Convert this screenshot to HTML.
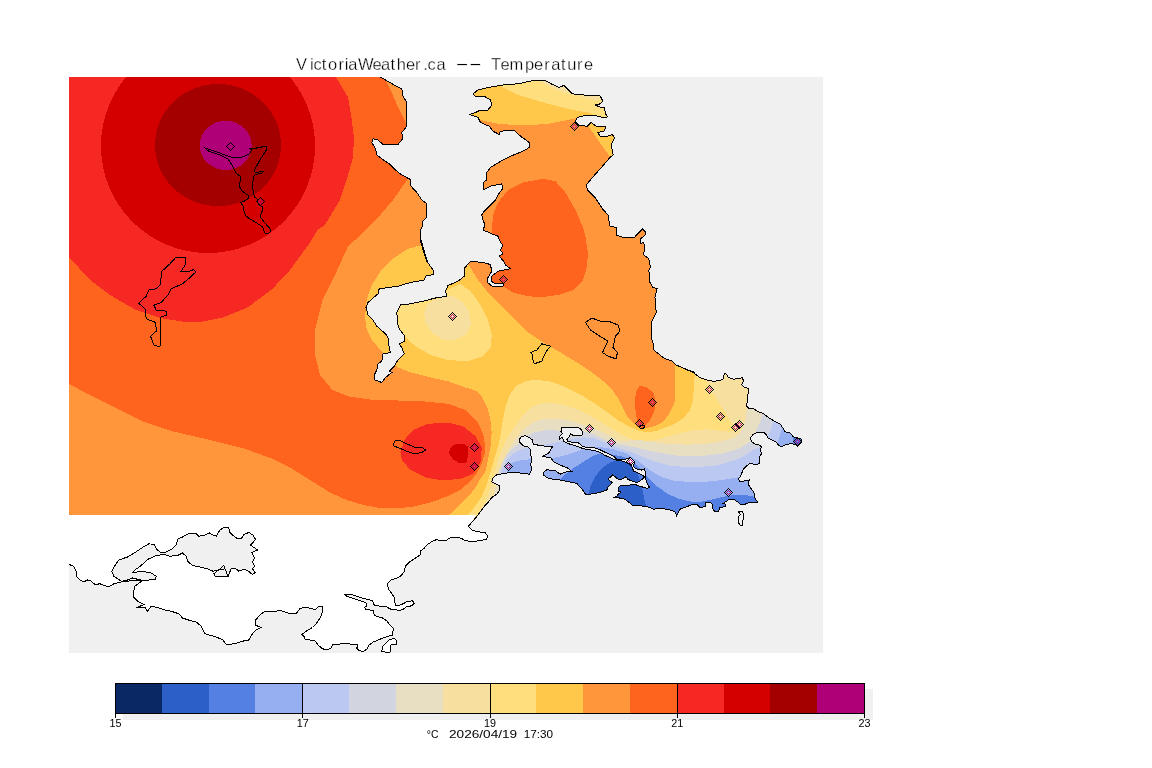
<!DOCTYPE html>
<html><head><meta charset="utf-8"><title>VictoriaWeather.ca -- Temperature</title>
<style>html,body{margin:0;padding:0;background:#fff}body{width:1152px;height:768px;overflow:hidden}svg{display:block}text{font-family:"Liberation Sans",sans-serif;fill:#000}.t{stroke:#fff;stroke-width:0.3px}</style></head><body>
<svg width="1152" height="768" viewBox="0 0 1152 768" shape-rendering="crispEdges">
<rect width="1152" height="768" fill="#fff"/>
<rect x="69" y="77" width="754" height="576" fill="#f0f0f0"/>
<defs><clipPath id="land"><polygon points="69,77 380.5,77 380.5,77 385.5,80 394.2,85 401.8,88.8 403,96.2 406.8,102.5 406.8,126.2 401.8,132.5 402.5,138.8 398,144.5 383,144.5 377.5,139.5 373,138.8 371.8,142.5 375.5,148.8 376.8,155 381.8,158.8 389.2,163.8 395.5,170 401.8,175 410.5,179.5 410,185 416.8,192.5 421.8,200 426.8,203.8 426.8,217.5 423,221.2 422.5,226.2 420.5,230 421,242.5 423,250 425.5,256.2 427.5,262 421,240 423,250 426.8,261.2 433,270 433,274.5 425.5,276.2 424.2,280 410.5,282.5 398,286.2 379.2,288.8 378,293.8 368,302.5 366,307.5 368,315 373,320 376.8,326.2 385.5,333.8 388,337.5 389.2,347.5 390.5,352.5 383,353.8 381.8,361.2 378,363.8 376.8,370 374.2,375 375,380 381.8,382.5 385.5,377.5 391.8,372.5 389.2,371.2 394.2,366.2 398,360 404.2,353.8 401.8,347.5 399.2,343.8 404.2,341.2 405,336.2 399.2,328.8 398,325 396.8,312.5 400.5,305 410.5,303.8 423,301.2 435.5,298 446.8,296.2 445.5,291.2 448,285.5 458,281.2 464.2,276.2 465,267.5 470.5,261.2 478,262 486.8,263.2 490.5,265 491.8,271.2 488,277.5 487.5,282.5 493,287 503,286.2 503.5,283.8 495.5,283.8 491,281.2 491.8,276.2 498,271.2 510.5,268.8 505.5,265 504.2,262 499.2,256.2 503,253.8 500.5,250 503,245 500.5,242.5 498,236.2 491.8,233.8 483,230 485,225 483,220 481.8,215 484.2,211.2 490.5,205 495.5,200 498,195 502.5,188.8 501.8,183.8 490.5,186.2 483,190 483,182.5 486.8,180 486.8,172.5 490.5,167.5 503,160 510.5,156.2 523,151.2 529.2,147.5 529.2,142.5 520.5,136.2 514.2,130 500.5,131.2 499.2,134.5 493,131.2 489.2,126.2 480.5,122.5 478,117.5 470,114.5 475.5,112.5 480.5,110 488,110 491.8,105 490.5,100 484.2,96.2 475.5,96.2 473,93.8 478,90 488,87.5 503,85 518,83.8 533,80.5 545.5,80.5 551.2,83.8 558.8,87.5 563.8,85.5 572.5,93.8 583.8,95 593.8,95.8 600,95.8 603,101.2 598.8,104.5 595,105 601.2,107.5 604.5,107.5 605.5,113.8 607.5,117 602.5,117.5 593.8,115 585,115.5 577.5,117.5 575,121.2 578.8,125.5 587.5,126.2 591.2,122.5 596.2,126.2 606.2,127 603.8,131.2 598,132.5 600,136.2 607.5,136.2 612.5,134.5 614.5,138 611.2,145 613.2,155 610,157.5 602.5,166.2 592.5,177.5 586.2,185 587.5,190 595,197.5 602.5,208.8 608,215 610,226.2 616.2,227.5 616.2,235 623.8,237.5 633.8,238 642.5,228.8 645.5,232 645,235 640,239.5 640,243.8 643.8,242.5 644.5,248.8 644.5,243.8 643.8,255 648.8,258.8 650.5,267.5 648.8,270 650,282.5 652.5,287 657,288.8 655,297.5 656.2,312.5 653.8,317.5 651.2,322.5 651.2,337.5 653,342.5 653.8,350 660,355 665,358.8 672.5,361.2 676.2,365 685,368.8 695,372.5 687.5,370 693.3,372.5 700,377.5 706.7,380 713.3,381.3 718.3,380.8 723,379.2 724.2,374.2 725.8,373.3 728.3,377.5 733.3,379.2 740,378.3 742,377.5 743.7,380.8 741.7,385 744.2,387.5 748.3,388.3 748.7,392.5 747.5,395 748,401.7 745.8,405 748.3,408 753.3,408.7 758.3,411.7 763.3,413.3 768.3,417.5 772.5,420 776.7,422.5 780,423.7 782.5,427.5 785,431.7 790,433 793.3,436.7 797.5,438.3 800.8,438.7 801.7,441.7 799.2,445 797.5,446.3 795,444.2 790,443.8 785,445 781.7,446.7 778.3,445 775.8,441.7 771.7,440 768.3,438.3 765.8,434.2 764.2,432.5 756.7,432.5 753.3,434.2 750,438.3 751.7,441.7 755,444.2 759.2,445 761.7,446.7 760,450 761.7,453.3 759.7,456.7 760,463.3 756.7,464.7 750,463.3 746.7,465.8 743.3,469.2 741.7,473.3 740,476.7 738.3,479.2 740,481.7 745,480.8 749.2,480 748.3,484.2 750.8,488.3 753.3,491.7 755,495 754.2,495.8 755.8,500 758.3,502 753.3,502.5 748.3,503 745,504.2 740,504.2 737.5,501.7 733.3,499.2 728.3,500 723.3,503.3 725.8,504.2 725,506.7 720,507.5 718.3,511.7 715,511.7 712.5,508.3 712.5,504.2 710,502 705.8,502.5 705,506.7 700,507.5 697.5,505 693.3,504.2 686.7,506.7 680,509.2 678.3,512.5 676.7,515.8 675,511.7 670,510 663.3,508.7 655.8,508.3 653.3,510 652.5,508.3 646.7,506.7 640,505.8 633.3,505.8 628.3,501.7 623.3,498.3 614.4,497.6 616.4,496.6 618.5,494 621.1,491.9 618,490.9 618.5,487.7 620.6,485.1 623.7,485.7 628.9,485.1 635.2,484.6 641.5,486.7 646.7,488.3 649.8,487.7 646.7,482.5 645.1,476.8 645.6,473.1 644.6,469 641.5,470 637.3,469 634.2,467.4 633.6,464.8 634.7,462.2 633.1,460.1 630.5,457.5 627.9,458.6 622.7,459.6 616.4,459.1 613.3,456 610.2,454.4 605,452.3 599.8,449.7 593.5,447.3 587.3,447.6 582.1,446.1 577.9,442.4 572.7,442.4 568,441.4 566.9,439.3 569,436.7 570.6,434.1 572.7,435.1 582.1,435.1 582.9,432.5 581,429.4 577.9,427.3 561.2,427.3 561,431.5 562.3,433.5 559.6,436.7 559.1,439.3 561.7,437.2 563.3,439.3 563.8,441.4 567.5,443.4 572.7,445 578.9,446.9 583.1,448.7 589.3,449.7 595.6,450.7 599.8,452.3 605,455.4 610.2,457.5 614.4,459.6 618.5,460.4 622.7,461.2 626.9,462.7 631,464.8 632.6,468.5 633.6,471.1 638.3,473.1 642.5,475.2 644.6,477.3 642.5,478.9 639.4,481.5 636.2,482.5 632.1,481 627.9,479.4 625.8,476.8 622.7,478.9 618.5,479.4 616.4,477.8 612.8,474.7 610.2,477.3 608.1,478.9 610.2,481 612.3,482.5 610.2,484.6 608.1,486.7 607.1,489.8 603.9,490.9 601.9,491.9 597.7,492.9 593.5,493.5 588.3,494.5 586.2,495 582.1,489.3 576.7,483.3 568.3,481.7 560,480 553.3,479.2 548.3,478.3 543.3,475 543.3,472.5 546.7,469.7 555.8,470.8 560,474.2 566.7,471.7 572,471.7 568.3,468.3 560,465 553.3,461.7 550.8,457.5 542.5,456.7 549.2,452.5 552.5,446.7 541.7,445.8 533.3,444.2 532.5,440 529.2,437.5 525.3,435.8 521.3,436.7 519.5,439.2 520,442.5 523.3,445.8 527.5,446.7 530,449.2 530,453.3 531.7,458.3 530.8,465 531.7,470 529.2,474.2 521.7,473.3 513.3,472 505,473.3 496.7,474.7 493.3,477.5 491.7,481.7 495,483.7 499.2,485.8 500,490 496.7,494.2 491.7,497.5 486.7,504.2 486.7,503.3 481.7,510 476.7,516.7 471.7,522.5 476.7,515 69,515"/></clipPath><clipPath id="map"><rect x="69" y="77" width="754" height="576"/></clipPath></defs>
<polygon points="69,515 476.7,515 471.7,522.5 468.3,526.3 471.7,530 476.7,531.7 485,532.5 487.5,535.8 486.7,539.2 480,540.8 471.7,541.3 465,540.8 461.7,538.3 455,537.2 448.3,538.3 446.7,540.8 440,540.8 436.7,539.5 431.7,541.7 426.7,545 424.2,548.3 420.8,550.8 420,555 415,558.3 410,561.7 405.8,565.8 405,568 404.2,571.7 400.8,575.8 396.7,578.3 390.8,580 387.5,583.3 388.3,589.2 391.7,593.3 394.2,597.5 394.2,601.7 395.8,605 400,605 404.2,603.3 406.7,601.7 412.5,600.8 414.2,603.3 411.7,605.8 406.7,606.7 403.3,609.2 399.2,610.8 395,609.2 391.7,609.7 386.7,607 380,606.3 374.2,605 372.5,600.8 366.7,599.2 360,597.5 353.3,595 345,594.7 347.5,596.7 353.3,598.3 360,600.8 365.8,602.5 366.7,605.8 364.7,607.5 365.8,609.7 370,610 373.3,610.8 374.2,615 376.7,616.7 381.7,617.5 386.7,620.8 390,625 393.3,628.3 392.5,635 386.7,636.7 380,639.2 373.3,642 369.2,645 366.7,649.2 363.3,651.3 359.2,650.8 356.7,648.3 358,645 353.3,644.2 343.3,643.7 332.5,644.7 330.8,648.3 326.7,650 322.5,648.7 318.3,645.3 315,640.8 310,640 305,639.2 304.2,636.7 301.7,634.7 306.7,630.8 312.5,627.5 315.8,624.2 319.2,619.2 321.7,615 322.5,610 322,606.3 318.3,607 315,609.7 311.7,608.3 305,607.5 300,608.3 296.2,613.8 290,613.8 281.2,610.8 272.5,611.2 263.8,612 260,615 255.5,620 255,625 261.2,627.5 256.2,630 252.5,633.8 248.8,640 242.5,641.2 235,643.8 226.2,644.5 222.5,639.5 213.8,636.2 205,633.8 201.2,626.2 196.2,622 190,620.5 182.5,618 178.8,613.8 171.2,611.2 165,610 158.8,608 151.2,606.2 147.5,611.2 145,607.5 136.2,608 143.8,604.5 137.5,601.2 133.8,597.5 133.8,591.2 135,586.2 142.5,580.5 132.5,580.5 121.2,582 113.8,583.8 108.8,587 105,585.8 100,583.8 95,584.5 91.2,581.2 87.5,580 83.8,581.8 80,580 76.2,576.2 76.2,571.2 73.8,566.2 69.2,564.5 69,564.5" fill="#fff"/>
<g clip-path="url(#land)">
<rect x="60" y="70" width="780" height="460" fill="#ff963c"/>
<polygon points="60,70 380,70 385,79 391.8,92.5 398,107.5 404.3,120 406.8,126 420,150 420,178 408,178.8 401.8,187.5 393,200 378,217.5 360.5,235 348,246.3 335,275 322.5,300 315,330 315,355 320,375 332.5,390 348,396.3 373,400 398,400.5 423,401.3 448,403.8 465.5,410 478,422.5 484.3,437.5 485,452.5 481.7,463.3 476.7,473.3 470,481.7 460,490 446.7,496.7 430,502.5 413.3,506.7 396.7,508.3 380,508 363.3,505 346.7,500 330,492.5 310,480 290,467.5 272.5,458.8 245,448.8 210,440 172.5,431.3 142.5,421.3 110,405 85,392.5 60,379" fill="#ff641e"/>
<polygon points="491.8,232.5 493,215 498,202.5 508,190 523,182.5 543,178.8 555.5,181.3 565.5,192.5 575.5,210 583,227.5 585.5,237.5 588,252.5 586.8,267.5 583,280 573,290 560.5,294.5 543,297 528,296.3 513,292.5 503,286.3 495,284.5 492.3,280 491.8,276 493.5,273 497,270.5 493.5,263 489,250 489,235" fill="#ff641e"/>
<polygon points="640,385.8 646.7,387.5 653.3,392.5 655.8,401.7 654.2,411.7 650,420 645,425.8 642.5,428.3 639.2,425.8 636.7,418.3 635.3,408.3 635,398.3 636.7,390" fill="#ff641e"/>
<polygon points="60,70 336,70 336,77 348,97 351.8,120 354,137.5 353,157.5 348,175 340,200 325,225 317.5,230 310,242.5 290,270 272.5,288.8 247.5,307.5 222.5,317.5 200,322 185,322 160,318 135,309.5 110,295 90,280 69,257 60,250" fill="#f52823"/>
<polygon points="400.5,452.5 404.3,440 413,430 428,423.8 448,422.5 463,426.3 475.5,436.3 481.8,447.5 480.5,462.5 473,473.8 460.5,478.8 443,480.5 425.5,477.5 410.5,470 401.8,460" fill="#f52823"/>
<ellipse cx="208" cy="146" rx="107" ry="107" fill="#d40000"/>
<ellipse cx="218" cy="145" rx="63" ry="61" fill="#a50000"/>
<ellipse cx="225.7" cy="145.4" rx="26" ry="24.6" fill="#b00078"/>
<polygon points="448.8,452.5 450.8,447.5 455,444.2 463.3,443.7 468,446.7 468.3,455 466.3,462.5 458.3,462.5 452.5,459.2" fill="#d40000"/>
<polygon points="470,120 480.5,120 498,123.8 523,125.5 548,123.8 568,120 577,118 588,125.5 598,140 606.8,152.5 610.5,157.5 625,160 640,60 470,60" fill="#ffc84b"/>
<polygon points="421.8,245 408,248.8 393,258.8 380.5,271.3 371.8,285 366.8,298.8 365,317.5 366.8,330 371.8,340 380.5,350 390,360 398,367.5 410.5,372.5 430.5,377.5 448,381.3 465.5,387.5 476,391 482.3,397.3 487.3,407.3 490.4,419.8 491.6,432.3 491,444.8 488.5,457.3 485.4,472 481.7,476.7 475,488.3 466.7,498.3 456.7,508.3 449.2,514.7 445,525 830,525 830,365 675,365 674.5,380 675.5,400 670,412.5 663.3,421.7 655,425.8 646.7,428.3 640,428.3 635,425 628.3,418.3 623.3,408.3 618,398 610,387 600,378.5 590,371 578,363 560.5,352.5 543,342.5 528,332.5 513,317.5 500.5,305 488,292.5 478,280 470.5,267.5 462,255" fill="#ffc84b"/>
<polygon points="490,83 499.3,85.5 518,95 548,103.8 573,110 588,112.5 598,116.3 615,118 625,60 490,60" fill="#ffde7d"/>
<polygon points="446.8,290 460.5,283.8 470.5,291.2 480.5,305 488,320 491.8,335 490.5,347.5 483,356.2 468,361.2 448,360 430.5,355 415.5,346.2 404.2,336.2 396.8,325 395.5,310 405.5,300 423,295" fill="#ffde7d"/>
<polygon points="468.3,514.7 475,506.7 481.7,496.7 486.7,485 490.4,472 494.8,457.3 498.5,444.8 501,432.3 502.9,419.8 505.4,407.3 509.1,396 516,386 526,381 536,379.8 551,381.6 566,387.3 581,394.8 594.8,403.5 607.3,412.3 620,421.6 630,427 638.3,430.5 647,432.5 656.7,431 665,427.5 673.3,424.5 683.3,418.3 690,410 693.3,400 693.7,386.7 695,373.3 700,365 830,365 830,525 465,525" fill="#ffde7d"/>
<polygon points="539.4,81 547.8,85.8 558.9,90.7 572.8,94.8 589.4,99 599.2,100.4 612,101 612,60 539,60" fill="#f7df9f"/>
<polygon points="424.2,312.5 428,303.8 440.5,296.2 453,296.2 463,302.5 469.2,312.5 471,323.8 466.8,333.8 455.5,340 443,339.5 431.8,332.5 425.5,322.5" fill="#f7df9f"/>
<polygon points="479.2,511.7 485,501.7 490,490 494.8,472 497.9,461 502.3,448.5 508.5,436 516,424.8 523.5,414.8 531,407.3 541,403.5 553.5,402.9 566,405.4 578.5,409.8 591,416 603.5,423.5 613.5,429.8 620,433.5 630,438.5 640,441.5 656.7,440 673.3,435 690,430.8 706.7,429.2 720,430.8 730,431.7 735,430.8 733.3,425.8 729.2,419.2 724.2,410.8 718.3,401.7 711.7,391.7 706.7,380 705,370 830,370 830,525 475,525" fill="#f7df9f"/>
<polygon points="494.2,495 496.7,481.7 499.1,472 502.9,461 508.5,449.8 516,438.5 524.8,428.5 533.5,422.3 543.5,419.1 556,418.5 568.5,420.4 581,424.1 594.8,428.5 607.3,434.8 620,441 640,440 661.7,443.3 686.7,444.7 711.7,443.3 733.3,438.3 740,433.3 743.3,426.7 745.8,418.3 746.7,409.2 748,400 830,400 830,525 490,525" fill="#e8dfc3"/>
<polygon points="499.5,475 498.3,473.3 501.7,465 506.7,455 511,450 517.3,444.8 526,436 534.8,432.3 544.8,430.4 556,430.4 566,431.6 582.3,431 594.8,434.8 607.3,441 620,444.5 636.7,447.7 653.3,451.7 678.3,455.8 703.3,455.8 723.3,453.3 740,448.3 750,441.7 755,432.5 757.5,427.5 760.8,420 762.5,413.7 764,405 830,405 830,525 520,525 520,478" fill="#d2d5e0"/>
<polygon points="503,474 501.7,470.8 506.7,460 513.3,453.3 522,449.2 530,447 541,445.4 551,443.5 563.5,441 574,438.5 583.5,437.3 594.8,438.5 607.3,443.5 620,448.5 633.3,452.7 650,460 670,465.8 695,467.5 720,465 740,458.3 753.3,450 759.2,447.5 766.7,436.7 768.3,435 771.7,426.7 773.3,420.8 775,412 830,412 830,525 520,525 520,478" fill="#bbc9f2"/>
<polygon points="508,474 506.7,471.7 510,463.5 518.3,460.8 530,459.2 551.7,458.3 563.3,455.8 576.7,451.7 586.7,447.5 600,447 613.3,449.2 626.7,453.5 638.3,461 650,470.5 661.7,477 673.3,480.5 695,482.5 716.7,480.8 736.7,477.5 745,476 777.5,443.3 780,435 782.5,427.5 784,420 830,420 830,525 520,525 520,478" fill="#96aff0"/>
<polygon points="555,490 560,479.2 566.7,473.3 573.3,468.3 583.3,461.7 593.3,455.8 600,453.5 612,454.5 624,457 635,463 645,474.5 656,485.5 667,493.5 678,498.5 686.7,500.8 696.7,502.5 710,500 720,497.5 733.3,495 745,495 754.2,496.7 765,500 765,525 555,525" fill="#5580e3"/>
<polygon points="793.3,432 792.5,443.3 792,450 810,450 810,432" fill="#5580e3"/>
<polygon points="588,500 589.2,491.7 590.8,485 595,476.7 601.7,468.3 610,462.5 618.3,460 625,460.8 632,465 637,472 640,480 642.5,490 644.2,498.3 645.8,505 646,520 588,520" fill="#2d5fc8"/>
</g>
<polygon points="121.2,581.2 113.8,576.2 111.8,571.2 115,565.5 118.8,560 127.5,557 135,552.5 142.5,547.5 148.8,543.8 154.5,544.5 156.2,548.8 160,552 166.2,552 172.5,548.8 176.2,545 178,538.8 182.5,537 190,533 196.2,533.8 198.8,536.2 205,535 209.5,533 213,535 216.2,536.2 220,530 225,527 228.8,528 230,532.5 232.5,535 237.5,538.8 241.2,538.8 243.8,534.5 248.8,532.5 253,535 255.5,539.5 252.5,543 250.5,545 257.5,550 252,552.5 254.5,558 252.5,562.5 255,566.2 252.5,568.8 255,572.5 252.5,574.5 247.5,570.5 243.8,569.5 238.8,571.2 235,568 231.2,568.8 228,576.2 215,576.2 213.8,573.8 220,568.8 223.8,565 225,568.8 213,571.2 207.5,568.8 200,567 192.5,565.5 187.5,561.2 186.2,556.2 182.5,553 177.5,555.5 170,556.2 163.8,554.5 156.2,555.5 147.5,559.5 141.2,565.5 135,570 133,572.5 142.5,571.2 151.2,573 156.2,576.2 155,579.5 142.5,580.5 132.5,578 126.2,580.5" fill="#f0f0f0"/>
<polygon points="381.7,651.7 382.5,646.7 386.7,642.5 390,639.2 395,638.7 396.7,640.8 396.3,644.7 390.8,645 390,652.5" fill="#fff"/>
<g fill="none" stroke="#000" stroke-width="1" clip-path="url(#map)">
<polyline points="380.5,77 380.5,77 385.5,80 394.2,85 401.8,88.8 403,96.2 406.8,102.5 406.8,126.2 401.8,132.5 402.5,138.8 398,144.5 383,144.5 377.5,139.5 373,138.8 371.8,142.5 375.5,148.8 376.8,155 381.8,158.8 389.2,163.8 395.5,170 401.8,175 410.5,179.5 410,185 416.8,192.5 421.8,200 426.8,203.8 426.8,217.5 423,221.2 422.5,226.2 420.5,230 421,242.5 423,250 425.5,256.2 427.5,262 421,240 423,250 426.8,261.2 433,270 433,274.5 425.5,276.2 424.2,280 410.5,282.5 398,286.2 379.2,288.8 378,293.8 368,302.5 366,307.5 368,315 373,320 376.8,326.2 385.5,333.8 388,337.5 389.2,347.5 390.5,352.5 383,353.8 381.8,361.2 378,363.8 376.8,370 374.2,375 375,380 381.8,382.5 385.5,377.5 391.8,372.5 389.2,371.2 394.2,366.2 398,360 404.2,353.8 401.8,347.5 399.2,343.8 404.2,341.2 405,336.2 399.2,328.8 398,325 396.8,312.5 400.5,305 410.5,303.8 423,301.2 435.5,298 446.8,296.2 445.5,291.2 448,285.5 458,281.2 464.2,276.2 465,267.5 470.5,261.2 478,262 486.8,263.2 490.5,265 491.8,271.2 488,277.5 487.5,282.5 493,287 503,286.2 503.5,283.8 495.5,283.8 491,281.2 491.8,276.2 498,271.2 510.5,268.8 505.5,265 504.2,262 499.2,256.2 503,253.8 500.5,250 503,245 500.5,242.5 498,236.2 491.8,233.8 483,230 485,225 483,220 481.8,215 484.2,211.2 490.5,205 495.5,200 498,195 502.5,188.8 501.8,183.8 490.5,186.2 483,190 483,182.5 486.8,180 486.8,172.5 490.5,167.5 503,160 510.5,156.2 523,151.2 529.2,147.5 529.2,142.5 520.5,136.2 514.2,130 500.5,131.2 499.2,134.5 493,131.2 489.2,126.2 480.5,122.5 478,117.5 470,114.5 475.5,112.5 480.5,110 488,110 491.8,105 490.5,100 484.2,96.2 475.5,96.2 473,93.8 478,90 488,87.5 503,85 518,83.8 533,80.5 545.5,80.5 551.2,83.8 558.8,87.5 563.8,85.5 572.5,93.8 583.8,95 593.8,95.8 600,95.8 603,101.2 598.8,104.5 595,105 601.2,107.5 604.5,107.5 605.5,113.8 607.5,117 602.5,117.5 593.8,115 585,115.5 577.5,117.5 575,121.2 578.8,125.5 587.5,126.2 591.2,122.5 596.2,126.2 606.2,127 603.8,131.2 598,132.5 600,136.2 607.5,136.2 612.5,134.5 614.5,138 611.2,145 613.2,155 610,157.5 602.5,166.2 592.5,177.5 586.2,185 587.5,190 595,197.5 602.5,208.8 608,215 610,226.2 616.2,227.5 616.2,235 623.8,237.5 633.8,238 642.5,228.8 645.5,232 645,235 640,239.5 640,243.8 643.8,242.5 644.5,248.8 644.5,243.8 643.8,255 648.8,258.8 650.5,267.5 648.8,270 650,282.5 652.5,287 657,288.8 655,297.5 656.2,312.5 653.8,317.5 651.2,322.5 651.2,337.5 653,342.5 653.8,350 660,355 665,358.8 672.5,361.2 676.2,365 685,368.8 695,372.5 687.5,370 693.3,372.5 700,377.5 706.7,380 713.3,381.3 718.3,380.8 723,379.2 724.2,374.2 725.8,373.3 728.3,377.5 733.3,379.2 740,378.3 742,377.5 743.7,380.8 741.7,385 744.2,387.5 748.3,388.3 748.7,392.5 747.5,395 748,401.7 745.8,405 748.3,408 753.3,408.7 758.3,411.7 763.3,413.3 768.3,417.5 772.5,420 776.7,422.5 780,423.7 782.5,427.5 785,431.7 790,433 793.3,436.7 797.5,438.3 800.8,438.7 801.7,441.7 799.2,445 797.5,446.3 795,444.2 790,443.8 785,445 781.7,446.7 778.3,445 775.8,441.7 771.7,440 768.3,438.3 765.8,434.2 764.2,432.5 756.7,432.5 753.3,434.2 750,438.3 751.7,441.7 755,444.2 759.2,445 761.7,446.7 760,450 761.7,453.3 759.7,456.7 760,463.3 756.7,464.7 750,463.3 746.7,465.8 743.3,469.2 741.7,473.3 740,476.7 738.3,479.2 740,481.7 745,480.8 749.2,480 748.3,484.2 750.8,488.3 753.3,491.7 755,495 754.2,495.8 755.8,500 758.3,502 753.3,502.5 748.3,503 745,504.2 740,504.2 737.5,501.7 733.3,499.2 728.3,500 723.3,503.3 725.8,504.2 725,506.7 720,507.5 718.3,511.7 715,511.7 712.5,508.3 712.5,504.2 710,502 705.8,502.5 705,506.7 700,507.5 697.5,505 693.3,504.2 686.7,506.7 680,509.2 678.3,512.5 676.7,515.8 675,511.7 670,510 663.3,508.7 655.8,508.3 653.3,510 652.5,508.3 646.7,506.7 640,505.8 633.3,505.8 628.3,501.7 623.3,498.3 614.4,497.6 616.4,496.6 618.5,494 621.1,491.9 618,490.9 618.5,487.7 620.6,485.1 623.7,485.7 628.9,485.1 635.2,484.6 641.5,486.7 646.7,488.3 649.8,487.7 646.7,482.5 645.1,476.8 645.6,473.1 644.6,469 641.5,470 637.3,469 634.2,467.4 633.6,464.8 634.7,462.2 633.1,460.1 630.5,457.5 627.9,458.6 622.7,459.6 616.4,459.1 613.3,456 610.2,454.4 605,452.3 599.8,449.7 593.5,447.3 587.3,447.6 582.1,446.1 577.9,442.4 572.7,442.4 568,441.4 566.9,439.3 569,436.7 570.6,434.1 572.7,435.1 582.1,435.1 582.9,432.5 581,429.4 577.9,427.3 561.2,427.3 561,431.5 562.3,433.5 559.6,436.7 559.1,439.3 561.7,437.2 563.3,439.3 563.8,441.4 567.5,443.4 572.7,445 578.9,446.9 583.1,448.7 589.3,449.7 595.6,450.7 599.8,452.3 605,455.4 610.2,457.5 614.4,459.6 618.5,460.4 622.7,461.2 626.9,462.7 631,464.8 632.6,468.5 633.6,471.1 638.3,473.1 642.5,475.2 644.6,477.3 642.5,478.9 639.4,481.5 636.2,482.5 632.1,481 627.9,479.4 625.8,476.8 622.7,478.9 618.5,479.4 616.4,477.8 612.8,474.7 610.2,477.3 608.1,478.9 610.2,481 612.3,482.5 610.2,484.6 608.1,486.7 607.1,489.8 603.9,490.9 601.9,491.9 597.7,492.9 593.5,493.5 588.3,494.5 586.2,495 582.1,489.3 576.7,483.3 568.3,481.7 560,480 553.3,479.2 548.3,478.3 543.3,475 543.3,472.5 546.7,469.7 555.8,470.8 560,474.2 566.7,471.7 572,471.7 568.3,468.3 560,465 553.3,461.7 550.8,457.5 542.5,456.7 549.2,452.5 552.5,446.7 541.7,445.8 533.3,444.2 532.5,440 529.2,437.5 525.3,435.8 521.3,436.7 519.5,439.2 520,442.5 523.3,445.8 527.5,446.7 530,449.2 530,453.3 531.7,458.3 530.8,465 531.7,470 529.2,474.2 521.7,473.3 513.3,472 505,473.3 496.7,474.7 493.3,477.5 491.7,481.7 495,483.7 499.2,485.8 500,490 496.7,494.2 491.7,497.5 486.7,504.2 486.7,503.3 481.7,510 476.7,516.7 471.7,522.5 468.3,526.3 471.7,530 476.7,531.7 485,532.5 487.5,535.8 486.7,539.2 480,540.8 471.7,541.3 465,540.8 461.7,538.3 455,537.2 448.3,538.3 446.7,540.8 440,540.8 436.7,539.5 431.7,541.7 426.7,545 424.2,548.3 420.8,550.8 420,555 415,558.3 410,561.7 405.8,565.8 405,568 404.2,571.7 400.8,575.8 396.7,578.3 390.8,580 387.5,583.3 388.3,589.2 391.7,593.3 394.2,597.5 394.2,601.7 395.8,605 400,605 404.2,603.3 406.7,601.7 412.5,600.8 414.2,603.3 411.7,605.8 406.7,606.7 403.3,609.2 399.2,610.8 395,609.2 391.7,609.7 386.7,607 380,606.3 374.2,605 372.5,600.8 366.7,599.2 360,597.5 353.3,595 345,594.7 347.5,596.7 353.3,598.3 360,600.8 365.8,602.5 366.7,605.8 364.7,607.5 365.8,609.7 370,610 373.3,610.8 374.2,615 376.7,616.7 381.7,617.5 386.7,620.8 390,625 393.3,628.3 392.5,635 386.7,636.7 380,639.2 373.3,642 369.2,645 366.7,649.2 363.3,651.3 359.2,650.8 356.7,648.3 358,645 353.3,644.2 343.3,643.7 332.5,644.7 330.8,648.3 326.7,650 322.5,648.7 318.3,645.3 315,640.8 310,640 305,639.2 304.2,636.7 301.7,634.7 306.7,630.8 312.5,627.5 315.8,624.2 319.2,619.2 321.7,615 322.5,610 322,606.3 318.3,607 315,609.7 311.7,608.3 305,607.5 300,608.3 296.2,613.8 290,613.8 281.2,610.8 272.5,611.2 263.8,612 260,615 255.5,620 255,625 261.2,627.5 256.2,630 252.5,633.8 248.8,640 242.5,641.2 235,643.8 226.2,644.5 222.5,639.5 213.8,636.2 205,633.8 201.2,626.2 196.2,622 190,620.5 182.5,618 178.8,613.8 171.2,611.2 165,610 158.8,608 151.2,606.2 147.5,611.2 145,607.5 136.2,608 143.8,604.5 137.5,601.2 133.8,597.5 133.8,591.2 135,586.2 142.5,580.5 132.5,580.5 121.2,582 113.8,583.8 108.8,587 105,585.8 100,583.8 95,584.5 91.2,581.2 87.5,580 83.8,581.8 80,580 76.2,576.2 76.2,571.2 73.8,566.2 69.2,564.5"/>
<polygon points="121.2,581.2 113.8,576.2 111.8,571.2 115,565.5 118.8,560 127.5,557 135,552.5 142.5,547.5 148.8,543.8 154.5,544.5 156.2,548.8 160,552 166.2,552 172.5,548.8 176.2,545 178,538.8 182.5,537 190,533 196.2,533.8 198.8,536.2 205,535 209.5,533 213,535 216.2,536.2 220,530 225,527 228.8,528 230,532.5 232.5,535 237.5,538.8 241.2,538.8 243.8,534.5 248.8,532.5 253,535 255.5,539.5 252.5,543 250.5,545 257.5,550 252,552.5 254.5,558 252.5,562.5 255,566.2 252.5,568.8 255,572.5 252.5,574.5 247.5,570.5 243.8,569.5 238.8,571.2 235,568 231.2,568.8 228,576.2 215,576.2 213.8,573.8 220,568.8 223.8,565 225,568.8 213,571.2 207.5,568.8 200,567 192.5,565.5 187.5,561.2 186.2,556.2 182.5,553 177.5,555.5 170,556.2 163.8,554.5 156.2,555.5 147.5,559.5 141.2,565.5 135,570 133,572.5 142.5,571.2 151.2,573 156.2,576.2 155,579.5 142.5,580.5 132.5,578 126.2,580.5"/>
<polygon points="213.8,573.8 220,568.8 223.8,565 225,568.8 228,576.2 215,576.2"/>
<polygon points="381.7,651.7 382.5,646.7 386.7,642.5 390,639.2 395,638.7 396.7,640.8 396.3,644.7 390.8,645 390,652.5"/>
<polygon points="176.2,257 185,257 185.8,263.8 181.2,271.2 187.5,272 193.8,269.5 195.8,272 190,277.5 182.5,283.8 171.2,288.8 168.8,293.8 161.2,302.5 153.8,305 156.2,310 166.2,311.2 166.2,315.8 161.2,316.2 160,323.8 160.5,332.5 160,347 153.8,345 150.5,336.2 156.2,331.2 155.8,322.5 146.2,318.8 145,308.8 138.8,303.2 146.2,296.2 148.8,290 156.2,288.8 160,285 162,271.2 170,263.8"/>
<polygon points="393.5,443.8 395.5,440.5 400.5,440.8 406.8,443.8 414.2,447 421.8,447 425.5,450 421.8,452.5 414.2,453.8 406.8,451.2 399.2,448 394.2,446.2"/>
<polygon points="205.2,148.2 209.5,149.5 216.3,151.6 223.1,154.3 228.5,156.3 233.9,157.7 239.3,157.7 244.7,156.3 249.5,153.6 251.5,150.2 250.2,148.9 255.6,148.2 261,147.1 266.4,146.2 266.7,149.5 264.4,152.9 262.4,156.3 259.6,160.4 257.6,164.4 255.6,167.8 254.2,171.2 256.3,172.8 259.6,171.9 263,171.5 262.4,172.8 258.3,173.9 255.6,174.6 253.5,176.6 252.9,182 252.2,187.5 253.5,192.2 254.5,196.9 256.9,199 258.3,203.7 259.6,205.7 262.4,206.4 262.4,210.5 260.7,214.5 261,217.9 263.7,221.3 266.4,224.7 269.8,228.1 270.5,231.5 268.4,233.5 265.1,233.2 263.7,230.1 262.4,226.7 258.3,224 254.2,221.3 249.5,218.9 246.1,215.9 244.1,211.8 243.7,207.1 242,204.4 240.4,202.6 243.4,201.7 246.8,199.6 248.8,197.6 248.5,195.3 245.4,193.5 242,190.8 240,187.5 239.6,183.4 240.7,179.3 240,175.9 236.6,173.9 234.6,170.5 232.6,166.5 230.5,162.4 227.8,159 223.1,156.3 216.3,153.6 209.5,151.6 206.2,149.5"/>
<polygon points="530.5,352.5 536.8,350 541.8,343.8 550.5,346.2 545.5,352.5 541.8,361.2 534.2,363.8 532.5,358.8 533,355"/>
<polygon points="585.5,322.5 591.8,318 600.5,321.2 610.5,322 618,325 620,331.2 615.5,336.2 613,347.5 617.5,352.5 616,358.8 608,356.2 602.5,352.5 605.5,346.2 608,341.2 598,335 590.5,330"/>
<polygon points="738.3,511.7 742.5,511.7 743.7,515 743,520 742.5,525.8 740,525 738,521.7 738.7,516.7 740.3,514.2"/>
<polygon points="639.4,425.2 644.1,425.2 644.6,427.3 642.5,428.9 639.9,427.8"/>
</g>
<defs><g id="mk"><path d="M-4,0h1v1h-1zM-3,-1h1v1h-1zM-3,1h1v1h-1zM-2,-2h1v1h-1zM-2,2h1v1h-1zM-1,-3h1v1h-1zM-1,3h1v1h-1zM0,-4h1v1h-1zM0,4h1v1h-1zM1,-3h1v1h-1zM1,3h1v1h-1zM2,-2h1v1h-1zM2,2h1v1h-1zM3,-1h1v1h-1zM3,1h1v1h-1zM4,0h1v1h-1z" fill="#000"/><path d="M-2,0h1v1h-1zM-1,-1h1v1h-1zM-1,1h1v1h-1zM0,-2h1v1h-1zM0,2h1v1h-1zM1,-1h1v1h-1zM1,1h1v1h-1zM2,0h1v1h-1z" fill="#b4007d"/></g></defs>
<use href="#mk" x="230" y="146"/>
<use href="#mk" x="260" y="201"/>
<use href="#mk" x="574" y="126"/>
<use href="#mk" x="503" y="279"/>
<use href="#mk" x="452" y="316"/>
<use href="#mk" x="652" y="402"/>
<use href="#mk" x="639" y="423"/>
<use href="#mk" x="589" y="428"/>
<use href="#mk" x="611" y="442"/>
<use href="#mk" x="630" y="461"/>
<use href="#mk" x="474" y="447"/>
<use href="#mk" x="474" y="466"/>
<use href="#mk" x="508" y="466"/>
<use href="#mk" x="709" y="389"/>
<use href="#mk" x="720" y="416"/>
<use href="#mk" x="735" y="427"/>
<use href="#mk" x="739" y="424"/>
<use href="#mk" x="797" y="441"/>
<use href="#mk" x="728" y="492"/>
<rect x="123" y="689" width="750" height="31" fill="#f0f0f0"/>
<rect x="115" y="683" width="47.3125" height="30" fill="#0a2864"/>
<rect x="161.812" y="683" width="47.3125" height="30" fill="#2d5fc8"/>
<rect x="208.625" y="683" width="47.3125" height="30" fill="#5580e3"/>
<rect x="255.438" y="683" width="47.3125" height="30" fill="#96aff0"/>
<rect x="302.25" y="683" width="47.3125" height="30" fill="#bbc9f2"/>
<rect x="349.062" y="683" width="47.3125" height="30" fill="#d2d5e0"/>
<rect x="395.875" y="683" width="47.3125" height="30" fill="#e8dfc3"/>
<rect x="442.688" y="683" width="47.3125" height="30" fill="#f7df9f"/>
<rect x="489.5" y="683" width="47.3125" height="30" fill="#ffde7d"/>
<rect x="536.312" y="683" width="47.3125" height="30" fill="#ffc84b"/>
<rect x="583.125" y="683" width="47.3125" height="30" fill="#ff963c"/>
<rect x="629.938" y="683" width="47.3125" height="30" fill="#ff641e"/>
<rect x="676.75" y="683" width="47.3125" height="30" fill="#f52823"/>
<rect x="723.562" y="683" width="47.3125" height="30" fill="#d40000"/>
<rect x="770.375" y="683" width="47.3125" height="30" fill="#a50000"/>
<rect x="817.188" y="683" width="47.3125" height="30" fill="#b00078"/>
<rect x="115.5" y="683.5" width="749" height="30" fill="none" stroke="#000" stroke-width="1"/>
<rect x="302" y="683" width="1" height="30" fill="#000"/>
<rect x="490" y="683" width="1" height="30" fill="#000"/>
<rect x="677" y="683" width="1" height="30" fill="#000"/>
<rect x="115" y="713" width="1" height="5" fill="#000"/>
<text x="115.5" y="727" font-size="10" text-anchor="middle" textLength="12" lengthAdjust="spacingAndGlyphs">15</text>
<rect x="302" y="713" width="1" height="5" fill="#000"/>
<text x="302.75" y="727" font-size="10" text-anchor="middle" textLength="12" lengthAdjust="spacingAndGlyphs">17</text>
<rect x="490" y="713" width="1" height="5" fill="#000"/>
<text x="490" y="727" font-size="10" text-anchor="middle" textLength="12" lengthAdjust="spacingAndGlyphs">19</text>
<rect x="677" y="713" width="1" height="5" fill="#000"/>
<text x="677.25" y="727" font-size="10" text-anchor="middle" textLength="12" lengthAdjust="spacingAndGlyphs">21</text>
<rect x="864" y="713" width="1" height="5" fill="#000"/>
<text x="864.5" y="727" font-size="10" text-anchor="middle" textLength="12" lengthAdjust="spacingAndGlyphs">23</text>
<text x="426.8" y="738" font-size="10.5" textLength="11.7" lengthAdjust="spacingAndGlyphs">°C</text>
<text x="449" y="738" font-size="10.5" textLength="68.2" lengthAdjust="spacingAndGlyphs">2026/04/19</text>
<text x="523.7" y="738" font-size="10.5" textLength="29.4" lengthAdjust="spacingAndGlyphs">17:30</text>
<text class="t" x="296.1 310 313.5 321.8 328.1 338.5 344.8 348.2 357.95 372.5 380.9 390.6 396.8 405.9 414.9 423.2 427.4 436.4" y="70" font-size="16.5">VictoriaWeather.ca</text>
<text class="t" x="455" y="69.3" font-size="16" textLength="14.2" lengthAdjust="spacingAndGlyphs">-</text>
<text class="t" x="468.2" y="69.3" font-size="16" textLength="14.2" lengthAdjust="spacingAndGlyphs">-</text>
<text class="t" x="490.9 500.6 509.6 524.9 533.9 544.3 551.3 561 567.3 577 583.9" y="70" font-size="16.5">Temperature</text>
</svg></body></html>
